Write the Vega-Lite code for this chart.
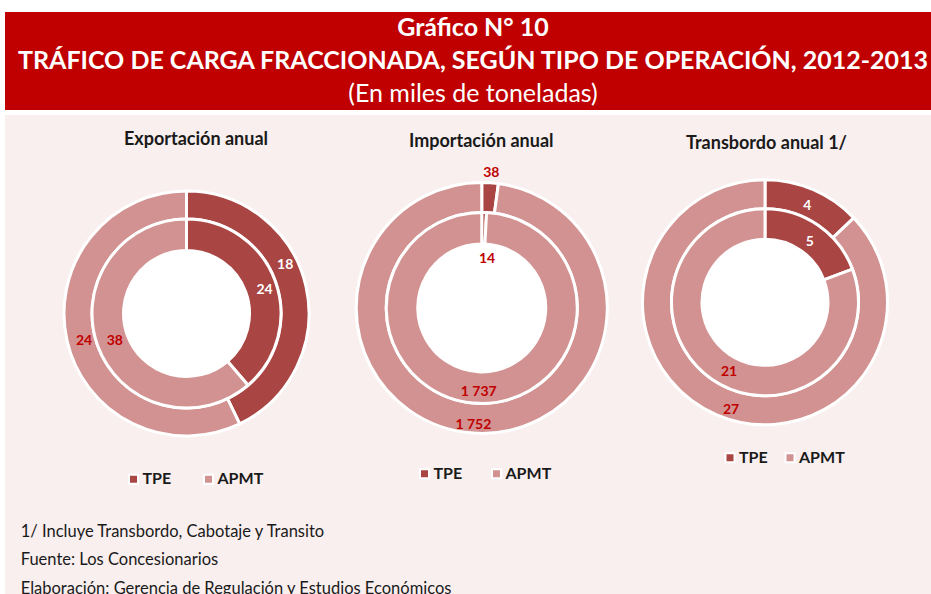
{
  "$schema": "https://vega.github.io/schema/vega-lite/v6.json",
  "background": "white",
  "padding": {"left": 5, "top": 12, "right": 0, "bottom": 0},
  "spacing": 5,
  "config": {
    "view": {"stroke": null},
    "font": "Lato",
    "locale": {"number": {"decimal": ",", "thousands": " ", "grouping": [3], "currency": ["", ""]}}
  },
  "datasets": {
    "rings": [
      {"chart": "Exportación anual", "ring": "outer", "op": "TPE", "value": 18},
      {"chart": "Exportación anual", "ring": "outer", "op": "APMT", "value": 24},
      {"chart": "Exportación anual", "ring": "inner", "op": "TPE", "value": 24},
      {"chart": "Exportación anual", "ring": "inner", "op": "APMT", "value": 38},
      {"chart": "Importación anual", "ring": "outer", "op": "TPE", "value": 38},
      {"chart": "Importación anual", "ring": "outer", "op": "APMT", "value": 1752},
      {"chart": "Importación anual", "ring": "inner", "op": "TPE", "value": 14},
      {"chart": "Importación anual", "ring": "inner", "op": "APMT", "value": 1737},
      {"chart": "Transbordo anual 1/", "ring": "outer", "op": "TPE", "value": 4},
      {"chart": "Transbordo anual 1/", "ring": "outer", "op": "APMT", "value": 27},
      {"chart": "Transbordo anual 1/", "ring": "inner", "op": "TPE", "value": 5},
      {"chart": "Transbordo anual 1/", "ring": "inner", "op": "APMT", "value": 21}
    ],
    "titles": [
      {"chart": "Exportación anual"},
      {"chart": "Importación anual"},
      {"chart": "Transbordo anual 1/"}
    ],
    "banner": [
      {"line": 1, "text": "Gráfico N° 10"},
      {"line": 2, "text": "TRÁFICO DE CARGA FRACCIONADA, SEGÚN TIPO DE OPERACIÓN, 2012-2013"},
      {"line": 3, "text": "(En miles de toneladas)"}
    ],
    "notes": [
      {"line": 1, "text": "1/ Incluye Transbordo, Cabotaje y Transito"},
      {"line": 2, "text": "Fuente: Los Concesionarios"},
      {"line": 3, "text": "Elaboración: Gerencia de Regulación y Estudios Económicos"}
    ]
  },
  "vconcat": [
    {
      "width": 926,
      "height": 98,
      "view": {"fill": "#c00000", "stroke": null},
      "data": {"name": "banner"},
      "encoding": {
        "x": {"field": "line", "type": "ordinal", "scale": {"type": "point", "domain": [1, 2, 3], "range": [468, 468], "padding": 0}, "axis": null},
        "y": {"field": "line", "type": "ordinal", "scale": {"type": "point", "domain": [1, 2, 3], "range": [16, 82], "padding": 0}, "axis": null},
        "text": {"field": "text"}
      },
      "layer": [
        {"transform": [{"filter": "datum.line == 1"}], "mark": {"type": "text", "font": "Lato", "fontSize": 25, "fontWeight": "bold", "color": "white"}},
        {"transform": [{"filter": "datum.line == 2"}], "mark": {"type": "text", "font": "Lato", "fontSize": 25, "fontWeight": "bold", "color": "white"}},
        {"transform": [{"filter": "datum.line == 3"}], "mark": {"type": "text", "font": "Lato", "fontSize": 25, "fontWeight": "normal", "color": "white"}}
      ]
    },
    {
      "width": 926,
      "height": 479,
      "view": {"fill": "#f9efef", "stroke": null},
      "layer": [
        {
          "layer": [
            {
              "data": {"name": "rings"},
              "transform": [{"filter": "datum.chart == 'Exportación anual'"}],
              "encoding": {
                "x": {"field": "chart", "type": "nominal", "scale": {"type": "point", "domain": ["Exportación anual", "Importación anual", "Transbordo anual 1/"], "range": [181.5, 760], "padding": 0}, "axis": null},
                "y": {"field": "chart", "type": "nominal", "scale": {"type": "point", "domain": ["Exportación anual", "Importación anual", "Transbordo anual 1/"], "range": [198.5, 187.3], "padding": 0}, "axis": null},
                "theta": {"field": "value", "type": "quantitative", "stack": "normalize"},
                "order": {"field": "op", "sort": "descending"},
                "color": {"field": "op", "type": "nominal", "scale": {"domain": ["TPE", "APMT"], "range": ["#a94543", "#d29291"]},
                  "legend": {"orient": "none", "legendX": 120.5, "legendY": 356, "direction": "horizontal", "title": null, "symbolType": "square", "symbolSize": 81, "symbolStrokeColor": "white", "symbolStrokeWidth": 2, "symbolOpacity": 1, "labelFont": "Lato", "labelFontSize": 16, "labelFontWeight": "bold", "labelColor": "#1a1a1a", "labelOffset": 1, "columnPadding": 28}}
              },
              "layer": [
                {"transform": [{"filter": "datum.ring == 'inner'"}], "mark": {"type": "arc", "radius": 63, "radius2": 0, "stroke": "white", "strokeWidth": 1}, "encoding": {"color": {"value": "white"}, "detail": {"field": "op", "type": "nominal"}}},
                {"transform": [{"filter": "datum.ring == 'outer'"}], "mark": {"type": "arc", "radius": 122.5, "radius2": 94.5, "stroke": "white", "strokeWidth": 3}},
                {"transform": [{"filter": "datum.ring == 'inner'"}], "mark": {"type": "arc", "radius": 94.5, "radius2": 63, "stroke": "white", "strokeWidth": 3}},
                {"transform": [{"filter": "datum.ring == 'outer'"}], "mark": {"type": "text", "radius": 110, "thetaOffset": -0.232, "font": "Lato", "fontSize": 14, "fontWeight": "bold"},
                  "encoding": {"text": {"field": "value", "type": "quantitative", "format": ",d"}, "color": {"value": "white"}, "detail": {"field": "op", "type": "nominal"}, "opacity": {"condition": {"test": "datum.op == 'TPE'", "value": 1}, "value": 0}}},
                {"transform": [{"filter": "datum.ring == 'outer'"}], "mark": {"type": "text", "radius": 106, "thetaOffset": -0.038, "font": "Lato", "fontSize": 14, "fontWeight": "bold"},
                  "encoding": {"text": {"field": "value", "type": "quantitative", "format": ",d"}, "color": {"value": "#c00000"}, "detail": {"field": "op", "type": "nominal"}, "opacity": {"condition": {"test": "datum.op == 'APMT'", "value": 1}, "value": 0}}},
                {"transform": [{"filter": "datum.ring == 'inner'"}], "mark": {"type": "text", "radius": 81.5, "thetaOffset": 0.061, "font": "Lato", "fontSize": 14, "fontWeight": "bold"},
                  "encoding": {"text": {"field": "value", "type": "quantitative", "format": ",d"}, "color": {"value": "white"}, "detail": {"field": "op", "type": "nominal"}, "opacity": {"condition": {"test": "datum.op == 'TPE'", "value": 1}, "value": 0}}},
                {"transform": [{"filter": "datum.ring == 'inner'"}], "mark": {"type": "text", "radius": 77, "thetaOffset": -0.017, "font": "Lato", "fontSize": 14, "fontWeight": "bold"},
                  "encoding": {"text": {"field": "value", "type": "quantitative", "format": ",d"}, "color": {"value": "#c00000"}, "detail": {"field": "op", "type": "nominal"}, "opacity": {"condition": {"test": "datum.op == 'APMT'", "value": 1}, "value": 0}}}
              ]
            },
            {
              "data": {"name": "rings"},
              "transform": [{"filter": "datum.chart == 'Importación anual'"}],
              "encoding": {
                "x": {"field": "chart", "type": "nominal", "scale": {"type": "point", "domain": ["Exportación anual", "Importación anual", "Transbordo anual 1/"], "range": [181.5, 760], "padding": 0}, "axis": null},
                "y": {"field": "chart", "type": "nominal", "scale": {"type": "point", "domain": ["Exportación anual", "Importación anual", "Transbordo anual 1/"], "range": [198.5, 187.3], "padding": 0}, "axis": null},
                "theta": {"field": "value", "type": "quantitative", "stack": "normalize"},
                "order": {"field": "op", "sort": "descending"},
                "color": {"field": "op", "type": "nominal", "scale": {"domain": ["TPE", "APMT"], "range": ["#a94543", "#d29291"]},
                  "legend": {"orient": "none", "legendX": 411.5, "legendY": 350.5, "direction": "horizontal", "title": null, "symbolType": "square", "symbolSize": 81, "symbolStrokeColor": "white", "symbolStrokeWidth": 2, "symbolOpacity": 1, "labelFont": "Lato", "labelFontSize": 16, "labelFontWeight": "bold", "labelColor": "#1a1a1a", "labelOffset": 1, "columnPadding": 25}}
              },
              "layer": [
                {"transform": [{"filter": "datum.ring == 'inner'"}], "mark": {"type": "arc", "xOffset": 6, "radius": 64, "radius2": 0, "stroke": "white", "strokeWidth": 1}, "encoding": {"color": {"value": "white"}, "detail": {"field": "op", "type": "nominal"}}},
                {"transform": [{"filter": "datum.ring == 'outer'"}], "mark": {"type": "arc", "xOffset": 6, "radius": 125.5, "radius2": 95.5, "stroke": "white", "strokeWidth": 3}},
                {"transform": [{"filter": "datum.ring == 'inner'"}], "mark": {"type": "arc", "xOffset": 6, "radius": 95.5, "radius2": 64, "stroke": "white", "strokeWidth": 3}},
                {"transform": [{"filter": "datum.ring == 'outer'"}], "mark": {"type": "text", "xOffset": 6, "radius": 135.6, "thetaOffset": 0.004, "font": "Lato", "fontSize": 14, "fontWeight": "bold"},
                  "encoding": {"text": {"field": "value", "type": "quantitative", "format": ",d"}, "color": {"value": "#c00000"}, "detail": {"field": "op", "type": "nominal"}, "opacity": {"condition": {"test": "datum.op == 'TPE'", "value": 1}, "value": 0}}},
                {"transform": [{"filter": "datum.ring == 'outer'"}], "mark": {"type": "text", "xOffset": 6, "radius": 117, "thetaOffset": 0.005, "font": "Lato", "fontSize": 14, "fontWeight": "bold"},
                  "encoding": {"text": {"field": "value", "type": "quantitative", "format": ",d"}, "color": {"value": "#c00000"}, "detail": {"field": "op", "type": "nominal"}, "opacity": {"condition": {"test": "datum.op == 'APMT'", "value": 1}, "value": 0}}},
                {"transform": [{"filter": "datum.ring == 'inner'"}], "mark": {"type": "text", "xOffset": 6, "radius": 49, "thetaOffset": 0.083, "font": "Lato", "fontSize": 14, "fontWeight": "bold"},
                  "encoding": {"text": {"field": "value", "type": "quantitative", "format": ",d"}, "color": {"value": "#c00000"}, "detail": {"field": "op", "type": "nominal"}, "opacity": {"condition": {"test": "datum.op == 'TPE'", "value": 1}, "value": 0}}},
                {"transform": [{"filter": "datum.ring == 'inner'"}], "mark": {"type": "text", "xOffset": 6, "radius": 84.3, "thetaOffset": 0.01, "font": "Lato", "fontSize": 14, "fontWeight": "bold"},
                  "encoding": {"text": {"field": "value", "type": "quantitative", "format": ",d"}, "color": {"value": "#c00000"}, "detail": {"field": "op", "type": "nominal"}, "opacity": {"condition": {"test": "datum.op == 'APMT'", "value": 1}, "value": 0}}}
              ]
            },
            {
              "data": {"name": "rings"},
              "transform": [{"filter": "datum.chart == 'Transbordo anual 1/'"}],
              "encoding": {
                "x": {"field": "chart", "type": "nominal", "scale": {"type": "point", "domain": ["Exportación anual", "Importación anual", "Transbordo anual 1/"], "range": [181.5, 760], "padding": 0}, "axis": null},
                "y": {"field": "chart", "type": "nominal", "scale": {"type": "point", "domain": ["Exportación anual", "Importación anual", "Transbordo anual 1/"], "range": [198.5, 187.3], "padding": 0}, "axis": null},
                "theta": {"field": "value", "type": "quantitative", "stack": "normalize"},
                "order": {"field": "op", "sort": "descending"},
                "color": {"field": "op", "type": "nominal", "scale": {"domain": ["TPE", "APMT"], "range": ["#a94543", "#d29291"]},
                  "legend": {"orient": "none", "legendX": 717, "legendY": 334.5, "direction": "horizontal", "title": null, "symbolType": "square", "symbolSize": 81, "symbolStrokeColor": "white", "symbolStrokeWidth": 2, "symbolOpacity": 1, "labelFont": "Lato", "labelFontSize": 16, "labelFontWeight": "bold", "labelColor": "#1a1a1a", "labelOffset": 1, "columnPadding": 13}}
              },
              "layer": [
                {"transform": [{"filter": "datum.ring == 'inner'"}], "mark": {"type": "arc", "radius": 63, "radius2": 0, "stroke": "white", "strokeWidth": 1}, "encoding": {"color": {"value": "white"}, "detail": {"field": "op", "type": "nominal"}}},
                {"transform": [{"filter": "datum.ring == 'outer'"}], "mark": {"type": "arc", "radius": 122.5, "radius2": 93.5, "stroke": "white", "strokeWidth": 3}},
                {"transform": [{"filter": "datum.ring == 'inner'"}], "mark": {"type": "arc", "radius": 93.5, "radius2": 63, "stroke": "white", "strokeWidth": 3}},
                {"transform": [{"filter": "datum.ring == 'outer'"}], "mark": {"type": "text", "radius": 105, "thetaOffset": 0.009, "font": "Lato", "fontSize": 14, "fontWeight": "bold"},
                  "encoding": {"text": {"field": "value", "type": "quantitative", "format": ",d"}, "color": {"value": "white"}, "detail": {"field": "op", "type": "nominal"}, "opacity": {"condition": {"test": "datum.op == 'TPE'", "value": 1}, "value": 0}}},
                {"transform": [{"filter": "datum.ring == 'outer'"}], "mark": {"type": "text", "radius": 113, "thetaOffset": -0.1, "font": "Lato", "fontSize": 14, "fontWeight": "bold"},
                  "encoding": {"text": {"field": "value", "type": "quantitative", "format": ",d"}, "color": {"value": "#c00000"}, "detail": {"field": "op", "type": "nominal"}, "opacity": {"condition": {"test": "datum.op == 'APMT'", "value": 1}, "value": 0}}},
                {"transform": [{"filter": "datum.ring == 'inner'"}], "mark": {"type": "text", "radius": 75, "thetaOffset": 0.037, "font": "Lato", "fontSize": 14, "fontWeight": "bold"},
                  "encoding": {"text": {"field": "value", "type": "quantitative", "format": ",d"}, "color": {"value": "white"}, "detail": {"field": "op", "type": "nominal"}, "opacity": {"condition": {"test": "datum.op == 'TPE'", "value": 1}, "value": 0}}},
                {"transform": [{"filter": "datum.ring == 'inner'"}], "mark": {"type": "text", "radius": 78, "thetaOffset": -0.126, "font": "Lato", "fontSize": 14, "fontWeight": "bold"},
                  "encoding": {"text": {"field": "value", "type": "quantitative", "format": ",d"}, "color": {"value": "#c00000"}, "detail": {"field": "op", "type": "nominal"}, "opacity": {"condition": {"test": "datum.op == 'APMT'", "value": 1}, "value": 0}}}
              ]
            }
          ],
          "resolve": {"scale": {"color": "independent"}, "legend": {"color": "independent"}}
        },
        {
          "data": {"name": "titles"},
          "mark": {"type": "text", "font": "Lato", "fontSize": 18, "fontWeight": "bold", "baseline": "alphabetic", "color": "#1a1a1a"},
          "encoding": {
            "x": {"field": "chart", "type": "nominal", "scale": {"type": "point", "domain": ["Exportación anual", "Importación anual", "Transbordo anual 1/"], "range": [191, 761.5], "padding": 0}, "axis": null},
            "y": {"field": "chart", "type": "nominal", "scale": {"type": "point", "domain": ["Exportación anual", "Importación anual", "Transbordo anual 1/"], "range": [30.3, 34.3], "padding": 0}, "axis": null},
            "text": {"field": "chart"}
          }
        },
        {
          "data": {"name": "notes"},
          "mark": {"type": "text", "font": "Lato", "fontSize": 16.5, "align": "left", "baseline": "alphabetic", "color": "#1a1a1a", "clip": true},
          "encoding": {
            "x": {"field": "line", "type": "ordinal", "scale": {"type": "point", "domain": [1, 2, 3], "range": [15.7, 15.7], "padding": 0}, "axis": null},
            "y": {"field": "line", "type": "ordinal", "scale": {"type": "point", "domain": [1, 2, 3], "range": [421.7, 479], "padding": 0}, "axis": null},
            "text": {"field": "text"}
          }
        }
      ],
      "resolve": {"scale": {"x": "independent", "y": "independent"}}
    }
  ]
}
